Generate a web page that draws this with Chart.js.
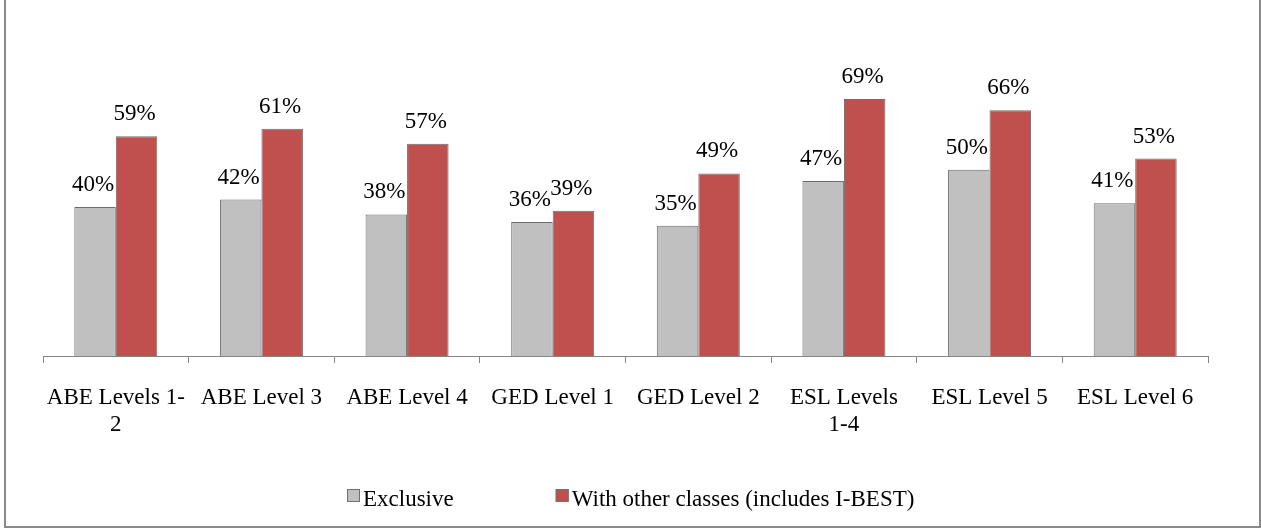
<!DOCTYPE html>
<html>
<head>
<meta charset="utf-8">
<script src="https://cdn.jsdelivr.net/npm/chart.js@4/dist/chart.umd.min.js"></script>
<style>
  html, body { margin: 0; padding: 0; background: #fff; }
  #wrap { position: relative; width: 1261px; height: 529px; overflow: hidden; }
  #frame {
    position: absolute; left: 4px; top: -5px; width: 1257px; height: 533px;
    box-sizing: border-box; border: 2px solid #8a8a8a; pointer-events: none;
  }
  #probe { position: absolute; left: -999px; font-family: "Liberation Serif"; }
</style>
</head>
<body>
<div id="wrap">
  <canvas id="chart"></canvas>
  <div id="frame"></div>
</div>
<span id="probe">probe 0123</span>
<script>
// Data
const categories = [
  ['ABE Levels 1-', '2'], 'ABE Level 3', 'ABE Level 4', 'GED Level 1',
  'GED Level 2', ['ESL Levels', '1-4'], 'ESL Level 5', 'ESL Level 6'
];
const seriesNames = ['Exclusive', 'With other classes (includes I-BEST)'];
const exclusive = [40, 42, 38, 36, 35, 47, 50, 41];
const withOther = [59, 61, 57, 39, 49, 69, 66, 53];

const FONT = '"Liberation Serif", "Times New Roman", serif';

// Percent labels over each bar
const valueLabels = {
  id: 'valueLabels',
  afterDatasetsDraw(chart) {
    const ctx = chart.ctx;
    ctx.save();
    ctx.font = '23px ' + FONT;
    ctx.fillStyle = '#000';
    ctx.textAlign = 'center';
    ctx.textBaseline = 'alphabetic';
    chart.data.datasets.forEach((ds, i) => {
      chart.getDatasetMeta(i).data.forEach((bar, j) => {
        ctx.fillText(ds.data[j] + '%', bar.x - 2, bar.y - 16);
      });
    });
    ctx.restore();
  }
};

// Legend drawn by hand so the spacing matches
const bottomLegend = {
  id: 'bottomLegend',
  afterDraw(chart) {
    const ctx = chart.ctx;
    ctx.save();
    ctx.font = '23px ' + FONT;
    const box = 13, gapText = 3, gapItems = 102;
    const items = chart.data.datasets.map(ds => ({
      text: ds.label, fill: ds.backgroundColor, w: ctx.measureText(ds.label).width
    }));
    let total = 0;
    items.forEach((it, i) => { total += box + gapText + it.w + (i ? gapItems : 0); });
    let x = Math.round((chart.width - total) / 2);
    items.forEach(it => {
      ctx.fillStyle = it.fill;
      ctx.fillRect(x, 489, box, box);
      ctx.strokeStyle = '#707070';
      ctx.lineWidth = 1;
      ctx.strokeRect(x + 0.5, 489.5, box - 1, box - 1);
      ctx.fillStyle = '#000';
      ctx.textBaseline = 'alphabetic';
      ctx.fillText(it.text, x + box + gapText, 506);
      x += box + gapText + it.w + gapItems;
    });
    ctx.restore();
  }
};

function draw() {
  new Chart(document.getElementById('chart'), {
    type: 'bar',
    data: {
      labels: categories,
      datasets: [
        {
          label: seriesNames[0],
          data: exclusive,
          backgroundColor: '#c0c0c0',
          borderColor: '#6e6e6e',
          borderWidth: 1
        },
        {
          label: seriesNames[1],
          data: withOther,
          backgroundColor: '#c0504d',
          borderColor: '#6e6e6e',
          borderWidth: 1
        }
      ]
    },
    options: {
      responsive: true,
      maintainAspectRatio: false,
      animation: false,
      layout: { padding: { left: 43, right: 53, top: 58, bottom: 73 } },
      datasets: { bar: { barPercentage: 1, categoryPercentage: 0.57 } },
      plugins: {
        legend: { display: false },
        tooltip: { enabled: false }
      },
      scales: {
        x: {
          offset: true,
          afterFit: (s) => { s.height = 100; },
          grid: {
            offset: true, drawOnChartArea: false, tickLength: 7,
            color: '#868686', lineWidth: 1
          },
          border: { display: true, color: '#868686', width: 1 },
          ticks: {
            color: '#000', maxRotation: 0, autoSkip: false, padding: 21,
            font: { family: FONT, size: 23, lineHeight: 1.2 }
          }
        },
        y: {
          display: false,
          min: 0,
          max: 80
        }
      }
    },
    plugins: [valueLabels, bottomLegend]
  });
}

document.fonts.load('23px "Liberation Serif"').then(draw, draw);
</script>
</body>
</html>
